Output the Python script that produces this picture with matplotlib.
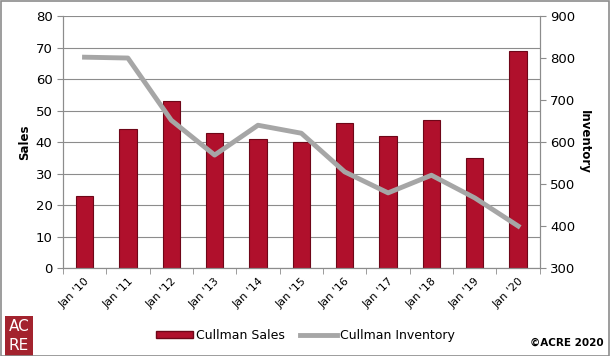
import matplotlib.pyplot as plt
from matplotlib.patches import Rectangle, Patch
from matplotlib.lines import Line2D
import numpy as np

# data
labels = ["Jan '10", "Jan '11", "Jan '12", "Jan '13", "Jan '14", "Jan '15",
          "Jan '16", "Jan '17", "Jan '18", "Jan '19", "Jan '20"]
sales = [23, 44, 53, 43, 41, 40, 46, 42, 47, 35, 69]
inventory = [802, 800, 652, 569, 640, 621, 529, 479, 521, 467, 400]

bar_color = '#B0102C'
line_color = '#A6A6A6'
grid_color = '#8C8C8C'

fig = plt.figure(figsize=(6.1, 3.56), dpi=100)
ax = fig.add_axes([0.103, 0.247, 0.782, 0.708])
x = np.arange(len(labels))

ax.set_axisbelow(True)
ax.yaxis.grid(True, color=grid_color, linewidth=0.8)
ax.bar(x, sales, width=0.4, color=bar_color, edgecolor='#6E0618', linewidth=0.8, zorder=2)
ax.set_ylim(0, 80)
ax.set_yticks(range(0, 81, 10))
ax.set_xlim(-0.5, len(labels) - 0.5)
ax.set_xticks(x)
ax.set_xticklabels(labels, rotation=45, ha='right', rotation_mode='anchor', fontsize=8)
ax.tick_params(axis='x', length=0, pad=6)
ax.set_xticks(np.arange(-0.5, len(labels)), minor=True)
ax.tick_params(axis='x', which='minor', length=4, color=grid_color)
ax.tick_params(axis='y', labelsize=9.5, length=4, color=grid_color)
ax.set_ylabel('Sales', fontsize=8.5, fontweight='bold', labelpad=3)
ax.spines['top'].set_visible(False)
for s in ['left', 'bottom', 'right']:
    ax.spines[s].set_color(grid_color)

ax2 = ax.twinx()
ax2.plot(x, inventory, color=line_color, linewidth=3.5, zorder=3)
ax2.set_ylim(300, 900)
ax2.set_yticks(range(300, 901, 100))
ax2.tick_params(axis='y', labelsize=9.5, length=4, color=grid_color)
ax2.set_ylabel('Inventory', fontsize=8.5, fontweight='bold', rotation=270, labelpad=11)
ax2.spines['top'].set_visible(False)
for s in ['left', 'bottom', 'right']:
    ax2.spines[s].set_color(grid_color)

handles = [Patch(facecolor=bar_color, edgecolor='#6E0618'),
           Line2D([0], [0], color=line_color, linewidth=3.5)]
fig.legend(handles, ['Cullman Sales', 'Cullman Inventory'], loc='center',
           bbox_to_anchor=(0.5, 0.058), ncol=2, frameon=False, fontsize=9,
           handlelength=3, handleheight=0.5, columnspacing=1.2, handletextpad=0.2)

# logo and copyright
fig.patches.append(Rectangle((0.008, 0.0), 0.046, 0.112, transform=fig.transFigure,
                             facecolor='#A3232E', edgecolor='none'))
fig.text(0.031, 0.082, 'AC', color='white', fontsize=11, ha='center', va='center')
fig.text(0.031, 0.030, 'RE', color='white', fontsize=11, ha='center', va='center')
fig.text(0.99, 0.022, '\u00a9ACRE 2020', fontsize=7.5, fontweight='bold', ha='right', va='bottom')

fig.patches.append(Rectangle((0.001, 0.001), 0.997, 0.996, transform=fig.transFigure,
                             facecolor='none', edgecolor='#8C8C8C', linewidth=1.2))

fig.savefig('out.png', dpi=100)
